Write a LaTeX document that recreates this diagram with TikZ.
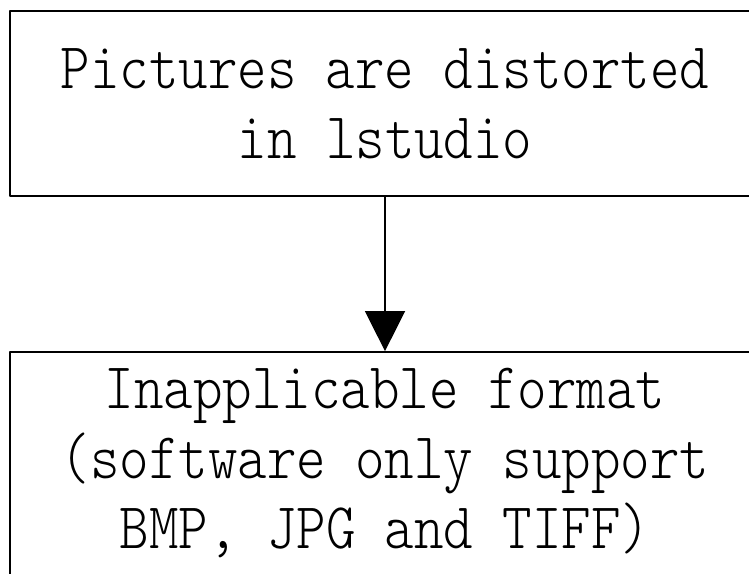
\documentclass[tikz,border=0pt]{standalone}
\usepackage{fontspec}
\newfontfamily\boxfont[FakeStretch=0.86]{Latin Modern Mono Light}
\usetikzlibrary{arrows.meta}
\begin{document}
\begin{tikzpicture}[x=0.75pt, y=-0.75pt, line join=round,
	box/.style={draw, line width=1.3pt, minimum width=562.5pt, align=center, inner sep=0pt,
		font=\boxfont\fontsize{49}{52.5}\selectfont},
	>={Triangle[length=30pt, width=30pt]}]
				\useasboundingbox (0,0) rectangle (749,574);
				\node[box, minimum height=138.75pt] (pic) at (385,103.5) {Pictures are distorted\\in lstudio};
				\node[box, minimum height=167.25pt] (fmt) at (385,463.5) {Inapplicable format\\(software only support\\BMP, JPG and TIFF)};
				\draw[->, line width=1.1pt] (pic) -- (fmt);
			\end{tikzpicture}
\end{document}
